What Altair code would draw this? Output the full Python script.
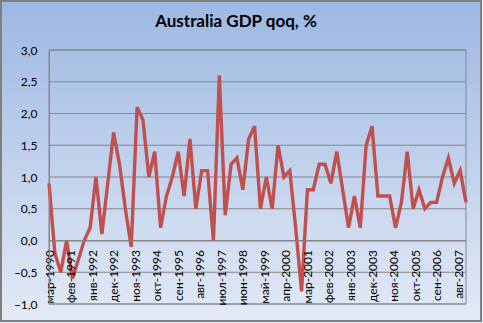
import altair as alt
import pandas as pd

# Quarterly GDP growth, q/q %, from Mar-1990 to Dec-2007
values = [0.9, -0.2, -0.5, 0.0, -0.6, -0.3, 0.0, 0.2, 1.0, 0.1, 0.9, 1.7,
          1.2, 0.5, -0.1, 2.1, 1.9, 1.0, 1.4, 0.2, 0.7, 1.0, 1.4, 0.7,
          1.6, 0.5, 1.1, 1.1, 0.0, 2.6, 0.4, 1.2, 1.3, 0.8, 1.6, 1.8,
          0.5, 1.0, 0.5, 1.5, 1.0, 1.1, 0.2, -0.8, 0.8, 0.8, 1.2, 1.2,
          0.9, 1.4, 0.8, 0.2, 0.7, 0.2, 1.5, 1.8, 0.7, 0.7, 0.7, 0.2,
          0.6, 1.4, 0.5, 0.8, 0.5, 0.6, 0.6, 1.0, 1.3, 0.9, 1.1, 0.6]

# month index since Mar-1990 (quarterly)
months = [3 * i for i in range(len(values))]

x_tick_labels = ["мар-1990", "фев-1991", "янв-1992", "дек-1992", "ноя-1993",
                 "окт-1994", "сен-1995", "авг-1996", "июл-1997", "июн-1998",
                 "май-1999", "апр-2000", "мар-2001", "фев-2002", "янв-2003",
                 "дек-2003", "ноя-2004", "окт-2005", "сен-2006", "авг-2007"]
x_tick_step = 11
y_ticks = [-1.0, -0.5, 0.0, 0.5, 1.0, 1.5, 2.0, 2.5, 3.0]
title_text = ["Australia GDP qoq, %"]

W, H = 417, 254
FONT = "Lato"
GRID = "#868686"

df = pd.DataFrame({"m": months, "v": values})
grid_df = pd.DataFrame({"g": y_ticks})
one = pd.DataFrame({"a": [0]})
title_df = pd.DataFrame({"t": title_text})

xscale = alt.Scale(domain=[0, months[-1]], nice=False, zero=False, padding=0)
yscale = alt.Scale(domain=[y_ticks[0], y_ticks[-1]], nice=False)

label_arr = "[" + ",".join("'" + s + "'" for s in x_tick_labels) + "]"

yaxis = alt.Axis(values=y_ticks,
                 labelExpr="replace(format(datum.value, '.1f'), '.', ',')",
                 labelFont=FONT, labelFontSize=12, labelColor="#000000",
                 labelPadding=12, ticks=False, grid=False,
                 domain=True, domainColor=GRID, zindex=1)
xaxis = alt.Axis(values=[x_tick_step * i for i in range(len(x_tick_labels))],
                 labelExpr=label_arr + "[round(datum.value/" + str(x_tick_step) + ")]",
                 labelAngle=270, labelFont=FONT, labelFontSize=12,
                 labelColor="#000000", labelPadding=9, ticks=False,
                 grid=False, domain=True, domainColor=GRID,
                 offset=-63.5, zindex=1, labelOverlap=False, labelBound=False)

bg = alt.Chart(one).mark_rect(
    fill=alt.LinearGradient(
        gradient="linear", x1=0, y1=0, x2=0, y2=1,
        stops=[alt.GradientStop(offset=0, color="#9db8e3"),
               alt.GradientStop(offset=1, color="#e3eaf6")]),
    stroke="#7f7f7f", strokeWidth=2,
).encode(x=alt.value(-48), x2=alt.value(W + 15), y=alt.value(-49), y2=alt.value(H + 17))

grid = alt.Chart(grid_df).mark_rule(color=GRID, strokeWidth=1).encode(
    y=alt.Y("g:Q", scale=yscale, axis=yaxis, title=None)
)

frame = alt.Chart(one).mark_rect(fill="transparent", stroke=GRID, strokeWidth=1).encode(
    x=alt.value(0), x2=alt.value(W), y=alt.value(0), y2=alt.value(H)
)

line = alt.Chart(df).mark_line(color="#c0504d", strokeWidth=3.4).encode(
    x=alt.X("m:Q", scale=xscale, title=None, axis=xaxis),
    y=alt.Y("v:Q", scale=yscale, title=None, axis=yaxis),
)

title = alt.Chart(title_df).mark_text(
    font=FONT, fontSize=17, fontWeight="bold", color="#000000",
    align="center", baseline="alphabetic",
).encode(text="t:N", x=alt.value(187), y=alt.value(-23))

chart = alt.layer(bg, grid, frame, line, title).properties(
    width=W, height=H,
    autosize=alt.AutoSizeParams(type="none"),
    padding={"left": 49, "top": 50, "right": 17, "bottom": 19},
).configure_view(stroke=None).configure(background="#e3eaf6")

chart.save("out.html", embed_options={"renderer": "svg", "actions": False})
